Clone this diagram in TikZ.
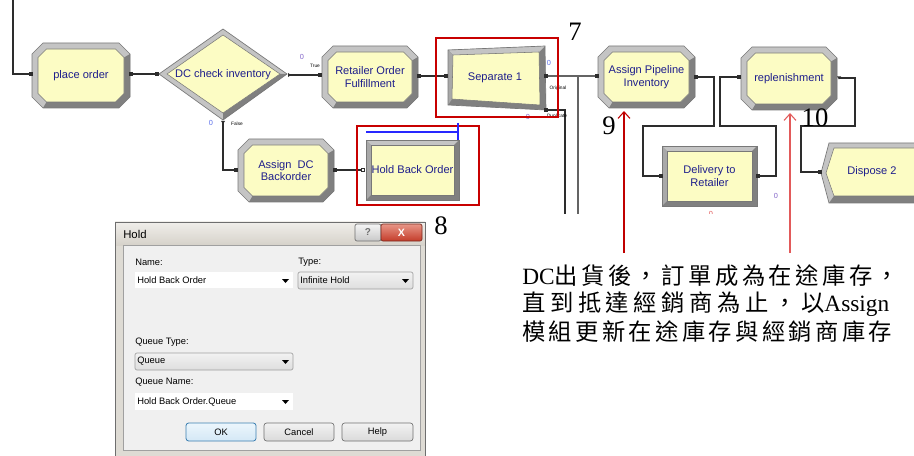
\documentclass[tikz,border=0pt]{standalone}
\usepackage{fontspec}
\setmainfont{Liberation Serif}
\setsansfont{Liberation Sans}
\newfontfamily\cjk{Noto Sans CJK TC}
\usetikzlibrary{arrows.meta}

\definecolor{modfill}{RGB}{252,252,196}
\definecolor{bevlight}{RGB}{196,196,196}
\definecolor{bevmid}{RGB}{168,168,168}
\definecolor{bevdark}{RGB}{128,128,128}
\definecolor{bevedge}{RGB}{120,120,120}
\definecolor{modtext}{RGB}{30,30,140}
\definecolor{wirec}{RGB}{45,45,45}
\definecolor{wiregray}{RGB}{100,100,100}
\definecolor{redbox}{RGB}{200,0,0}
\definecolor{noteredA}{RGB}{192,0,0}
\definecolor{noteredB}{RGB}{226,90,90}
\definecolor{cntpurple}{RGB}{130,100,200}
\definecolor{cntblue}{RGB}{90,110,235}
\definecolor{holdblue}{RGB}{40,40,255}
\definecolor{dlgframe}{RGB}{222,219,212}
\definecolor{dlgclient}{RGB}{240,240,240}
\definecolor{dlgborder}{RGB}{110,110,110}

\tikzset{
  wire/.style={draw=wirec, line width=0.8pt},
  modlabel/.style={font=\sffamily\fontsize{8.3}{9.6}\selectfont, text=modtext, align=center, inner sep=0pt},
  tinylbl/.style={font=\sffamily\fontsize{3.6}{4}\selectfont, text=black, inner sep=0pt},
  cnt/.style={font=\sffamily\fontsize{5.5}{6}\selectfont, inner sep=0pt},
  callnum/.style={font=\fontsize{20}{20}\selectfont, inner sep=0pt},
  redframe/.style={draw=redbox, line width=1.1pt},
  dlgtext/.style={font=\sffamily\fontsize{7}{8}\selectfont, inner sep=0pt, anchor=west},
  dlgbtn/.style={font=\sffamily\fontsize{7}{8}\selectfont, inner sep=0pt},
  cjkline/.style={inner sep=0pt, anchor=west, font=\fontsize{17.5}{20}\selectfont},
  notearrow/.style={line width=0.8pt, -{Straight Barb[length=5pt,width=9pt]}},
}

% chamfered Arena module: name, cx, cy, half width, half height, chamfer, text
\newcommand{\octmod}[7]{%
  \begin{scope}[shift={(#2,#3)}]
    \pgfmathsetmacro\octA{#4}\pgfmathsetmacro\octB{#5}\pgfmathsetmacro\octC{#6}
    \pgfmathsetmacro\octa{#4-6}\pgfmathsetmacro\octb{#5-6}\pgfmathsetmacro\octc{#6-2.5}
    \fill[bevlight] ({-\octA+\octC},-\octB) -- ({\octA-\octC},-\octB) -- (\octA,{-\octB+\octC})
      -- (\octA,{\octB-\octC}) -- ({\octA-\octC},\octB) -- ({-\octA+\octC},\octB)
      -- (-\octA,{\octB-\octC}) -- (-\octA,{-\octB+\octC}) -- cycle;
    \fill[bevdark] (\octA,{-\octB+\octC}) -- (\octA,{\octB-\octC}) -- ({\octA-\octC},\octB)
      -- ({-\octA+\octC},\octB) -- ({-\octa+\octc},\octb) -- ({\octa-\octc},\octb)
      -- (\octa,{\octb-\octc}) -- (\octa,{-\octb+\octc}) -- cycle;
    \draw[bevedge, line width=0.5pt] ({-\octA+\octC},-\octB) -- ({\octA-\octC},-\octB) -- (\octA,{-\octB+\octC})
      -- (\octA,{\octB-\octC}) -- ({\octA-\octC},\octB) -- ({-\octA+\octC},\octB)
      -- (-\octA,{\octB-\octC}) -- (-\octA,{-\octB+\octC}) -- cycle;
    \fill[modfill, draw=bevedge, line width=0.4pt] ({-\octa+\octc},-\octb) -- ({\octa-\octc},-\octb) -- (\octa,{-\octb+\octc})
      -- (\octa,{\octb-\octc}) -- ({\octa-\octc},\octb) -- ({-\octa+\octc},\octb)
      -- (-\octa,{\octb-\octc}) -- (-\octa,{-\octb+\octc}) -- cycle;
  \end{scope}
  \node[modlabel] (#1) at (#2,#3) {#7};
}

% bevelled rectangular module: name, x0, y0, x1, y1, text
\newcommand{\rectmod}[6]{%
  \fill[bevlight] (#2,#3) rectangle (#4,#5);
  \fill[bevmid] (#2,#3) -- ({#2+5},{#3+5}) -- ({#2+5},{#5-5}) -- (#2,#5) -- cycle;
  \fill[bevdark] (#4,#3) -- (#4,#5) -- (#2,#5) -- ({#2+5},{#5-5}) -- ({#4-5},{#5-5}) -- ({#4-5},{#3+5}) -- cycle;
  \draw[bevedge, line width=0.5pt] (#2,#3) rectangle (#4,#5);
  \fill[modfill, draw=bevedge, line width=0.4pt] ({#2+5},{#3+5}) rectangle ({#4-5},{#5-5});
  \node[modlabel] (#1) at ({(#2+#4)/2},{(#3+#5)/2}) {#6};
}

\newcommand{\portsq}[1]{\fill[wirec] (#1) ++(-1.6,-1.6) rectangle ++(3.2,3.2);}

\begin{document}
\begin{tikzpicture}[x=0.75pt,y=-0.75pt]
\useasboundingbox (0,0) rectangle (914,456);
\clip (0,0) rectangle (914,456);
\fill[white] (0,0) rectangle (914,456);

% ---------------- modules ----------------
\octmod{po}{81}{75.5}{49}{32.5}{11}{place order}

% decide module
\fill[bevlight] (159,74) -- (223,29) -- (287,74) -- (223,120) -- cycle;
\fill[bevdark] (287,74) -- (223,120) -- (223,113) -- (280,74) -- cycle;
\draw[bevedge, line width=0.5pt] (159,74) -- (223,29) -- (287,74) -- (223,120) -- cycle;
\fill[modfill, draw=bevedge, line width=0.4pt] (167,74) -- (223,35) -- (280,74) -- (223,113) -- cycle;
\node[modlabel] (dc) at (223,75) {DC check inventory};

\octmod{rof}{370}{77}{48}{31}{11}{Retailer Order\\Fulfillment}

% separate module
\fill[bevdark] (448,50) -- (545,46) -- (546,110) -- (448,105) -- cycle;
\fill[bevlight] (448,50) -- (545,46) -- (539,52) -- (453,55) -- cycle;
\fill[bevmid] (448,50) -- (453,55) -- (452,99) -- (448,105) -- cycle;
\draw[bevedge, line width=0.5pt] (448,50) -- (545,46) -- (546,110) -- (448,105) -- cycle;
\fill[modfill, draw=bevedge, line width=0.4pt] (453,55) -- (539,52) -- (540,105) -- (452,99) -- cycle;
\node[modlabel] (sep) at (495,78) {Separate 1};

\octmod{api}{646.5}{77}{48.5}{31}{11}{Assign Pipeline\\Inventory}
\octmod{rep}{789}{78.5}{48}{31.5}{11}{replenishment}
\octmod{adc}{286}{170.5}{48}{31.5}{11}{Assign\ \ DC\\Backorder}
\rectmod{hold}{366}{140}{459}{200}{Hold Back Order}
\rectmod{del}{662}{146}{757}{206}{Delivery to\\Retailer}

% dispose module
\fill[bevlight] (829,143) -- (916,143) -- (916,203) -- (829,203) -- (821,173) -- cycle;
\fill[bevdark] (829,203) -- (916,203) -- (916,196) -- (834,196) -- cycle;
\draw[bevedge, line width=0.5pt] (829,143) -- (916,143) -- (916,203) -- (829,203) -- (821,173) -- cycle;
\fill[modfill, draw=bevedge, line width=0.4pt] (834,148) -- (916,148) -- (916,196) -- (834,196) -- (826,173) -- cycle;
\node[modlabel] (disp) at (872,172) {Dispose 2};

% ---------------- ports ----------------
\coordinate (src) at (13,0);
\coordinate (po-in) at (31,74);
\coordinate (po-out) at (131,74);
\coordinate (dc-in) at (157,74);
\coordinate (dc-true) at (289,75);
\coordinate (rof-in) at (320,75);
\coordinate (rof-out) at (419,76);
\coordinate (sep-in) at (446,76);
\coordinate (sep-orig) at (546,76);
\coordinate (sep-dup) at (546,110);
\coordinate (api-in) at (597,76);
\coordinate (api-out) at (696,77);
\coordinate (del-in) at (661,176);
\coordinate (del-out) at (758,176);
\coordinate (rep-in) at (739,77);
\coordinate (rep-out) at (839,78);
\coordinate (disp-in) at (820,172);
\coordinate (dc-false) at (223,122);
\coordinate (adc-in) at (236,170);
\coordinate (adc-out) at (335,170);
\coordinate (hold-in) at (363,170);
\coordinate (orig-end) at (578,214);
\coordinate (dup-end) at (565,214);

% ---------------- connectors ----------------
\draw[wire] (src) |- (po-in);
\draw[wire] (po-out) -- (dc-in);
\draw[wire] (dc-true) -- (rof-in);
\draw[wire] (rof-out) -- (sep-in);
\draw[wire, draw=wiregray] (sep-orig) -- (api-in);
\draw[wire, draw=wiregray] (sep-orig -| orig-end) -- (orig-end);
\draw[wire] (sep-dup) -| (dup-end);
\draw[wire] (api-out) -- (714,77) -- (714,126) -- (643,126) |- (del-in);
\draw[wire] (del-out) -- (776,176) -- (776,126) -- (720,126) |- (rep-in);
\draw[wire] (rep-out) -- (855,78) -- (855,126) -- (801,126) |- (disp-in);
\draw[wire] (dc-false) |- (adc-in);
\draw[wire] (adc-out) -- (hold-in);

\foreach \p in {po-in,po-out,dc-in,rof-in,rof-out,sep-in,sep-orig,sep-dup,api-in,api-out,del-in,del-out,rep-in,disp-in,adc-in,adc-out}{\portsq{\p}}
\fill[white, draw=wirec, line width=0.5pt] (hold-in) ++(-1.6,-1.6) rectangle ++(3.2,3.2);
\fill[wirec] (dc-true) ++(-1,-2) -- ++(3,2) -- ++(-3,2) -- cycle;
\fill[wirec] (dc-false) ++(-2,-1) -- ++(4,0) -- ++(-2,3) -- cycle;
\fill[wirec] (rep-out) ++(-2,-1.5) -- ++(4,0) -- ++(-2,3) -- cycle;

% ---------------- port labels and counters ----------------
\node[tinylbl] (lbl-true) at (315,66) {True};
\node[tinylbl] (lbl-false) at (237,124) {False};
\node[tinylbl] (lbl-orig) at (558,88) {Original};
\node[tinylbl] (lbl-dup) at (557,116) {Duplicate};
\node[cnt, text=cntpurple] (c1) at (302,57) {0};
\node[cnt, text=cntblue] (c2) at (211,123) {0};
\node[cnt, text=cntblue] (c3) at (549,63) {0};
\node[cnt, text=cntpurple] (c4) at (528,117) {0};
\node[cnt, text=cntpurple] (c5) at (776,196) {0};
\begin{scope}
  \clip (700,209) rectangle (720,214);
  \node[cnt, text=noteredB] (c6) at (711,214) {0};
\end{scope}

% ---------------- highlight frames ----------------
\draw[redframe] (436,38) rectangle (558,117);
\draw[redframe] (357,126) rectangle (479,205);
\draw[holdblue, line width=0.8pt] (366,132) -- (458,132);
\draw[holdblue, line width=0.8pt] (458,123) -- (458,140);

% ---------------- callout numbers ----------------
\node[callnum] (n7) at (575,32) {7};
\node[callnum] (n8) at (441,226) {8};
\node[callnum] (n9) at (609,126) {9};
\node[callnum] (n10) at (815,118) {10};

% ---------------- note and arrows ----------------
\coordinate (foot-a) at (624,253);
\coordinate (api-bot) at (624,111);
\coordinate (foot-b) at (790,253);
\coordinate (rep-bot) at (790,113);
\draw[notearrow, draw=noteredA] (foot-a) -- (api-bot);
\draw[notearrow, draw=noteredB] (foot-b) -- (rep-bot);

\node[cjkline] (note1) at (522,276) {\hbox to 282.75pt{DC{\cjk 出\hfill 貨\hfill 後\hfill ，\hfill 訂\hfill 單\hfill 成\hfill 為\hfill 在\hfill 途\hfill 庫\hfill 存\hfill ，}}};
\node[cjkline] (note2) at (522,304) {\hbox to 275.25pt{{\cjk 直\hfill 到\hfill 抵\hfill 達\hfill 經\hfill 銷\hfill 商\hfill 為\hfill 止\hfill ，\hfill 以}Assign}};
\node[cjkline] (note3) at (522,332) {\hbox to 277.5pt{{\cjk 模\hfill 組\hfill 更\hfill 新\hfill 在\hfill 途\hfill 庫\hfill 存\hfill 與\hfill 經\hfill 銷\hfill 商\hfill 庫\hfill 存}}};

% ---------------- Hold dialog ----------------
\fill[dlgframe] (115,222) rectangle (425,458);
\shade[top color={rgb,255:red,240;green,238;blue,234}, bottom color={rgb,255:red,214;green,210;blue,202}] (115,222) rectangle (425,245);
\draw[dlgborder, line width=0.7pt] (115,222) rectangle (425,458);
\fill[dlgclient, draw={rgb,255:red,160;green,160;blue,160}, line width=0.5pt] (123,245) rectangle (420,450);
\node[font=\sffamily\fontsize{8.5}{9}\selectfont, inner sep=0pt, anchor=west] (dlg-title) at (123,234) {Hold};

% caption buttons
\shade[top color={rgb,255:red,245;green,245;blue,245}, bottom color={rgb,255:red,200;green,200;blue,200}, draw=dlgborder, line width=0.5pt, rounded corners=1.5pt] (355,224) rectangle (381,241);
\node[font=\sffamily\bfseries\fontsize{7.5}{8}\selectfont, text={rgb,255:red,110;green,110;blue,110}, inner sep=0pt] (btn-q) at (368,232.5) {?};
\shade[top color={rgb,255:red,232;green,150;blue,135}, bottom color={rgb,255:red,196;green,60;blue,42}, draw={rgb,255:red,120;green,40;blue,30}, line width=0.5pt, rounded corners=1.5pt] (381,224) rectangle (422,241);
\node[font=\sffamily\bfseries\fontsize{8}{8}\selectfont, text=white, inner sep=0pt] (btn-x) at (401.5,232.5) {X};

% fields
\node[dlgtext] (l-name) at (135,262) {Name:};
\node[dlgtext] (l-type) at (298,262) {Type:};
\fill[white] (135,272) rectangle (293,288);
\node[dlgtext] (f-name) at (137,280) {Hold Back Order};
\fill[black] (282,279) -- (289,279) -- (285.5,283) -- cycle;

\shade[top color={rgb,255:red,242;green,242;blue,242}, bottom color={rgb,255:red,222;green,222;blue,222}, draw={rgb,255:red,160;green,160;blue,160}, line width=0.5pt, rounded corners=1.5pt] (298,272) rectangle (413,289);
\node[dlgtext] (f-type) at (300,280.5) {Infinite Hold};
\fill[black] (402,279) -- (409,279) -- (405.5,283) -- cycle;

\node[dlgtext] (l-qtype) at (135,342) {Queue Type:};
\shade[top color={rgb,255:red,242;green,242;blue,242}, bottom color={rgb,255:red,222;green,222;blue,222}, draw={rgb,255:red,160;green,160;blue,160}, line width=0.5pt, rounded corners=1.5pt] (135,353) rectangle (293,370);
\node[dlgtext] (f-qtype) at (137,361.5) {Queue};
\fill[black] (282,360) -- (289,360) -- (285.5,364) -- cycle;

\node[dlgtext] (l-qname) at (135,382) {Queue Name:};
\fill[white] (135,393) rectangle (293,410);
\node[dlgtext] (f-qname) at (137,401.5) {Hold Back Order.Queue};
\fill[black] (282,400) -- (289,400) -- (285.5,404) -- cycle;

% buttons
\shade[top color={rgb,255:red,236;green,246;blue,252}, bottom color={rgb,255:red,212;green,232;blue,246}, draw={rgb,255:red,60;green,127;blue,177}, line width=0.6pt, rounded corners=2pt] (186,423) rectangle (256,441);
\node[dlgbtn] (b-ok) at (221,432) {OK};
\shade[top color={rgb,255:red,242;green,242;blue,242}, bottom color={rgb,255:red,218;green,218;blue,218}, draw={rgb,255:red,112;green,112;blue,112}, line width=0.5pt, rounded corners=2pt] (264,423) rectangle (334,441);
\node[dlgbtn] (b-cancel) at (299,432) {Cancel};
\shade[top color={rgb,255:red,242;green,242;blue,242}, bottom color={rgb,255:red,218;green,218;blue,218}, draw={rgb,255:red,112;green,112;blue,112}, line width=0.5pt, rounded corners=2pt] (342,423) rectangle (413,441);
\node[dlgbtn] (b-help) at (377.5,432) {Help};

\end{tikzpicture}
\end{document}
